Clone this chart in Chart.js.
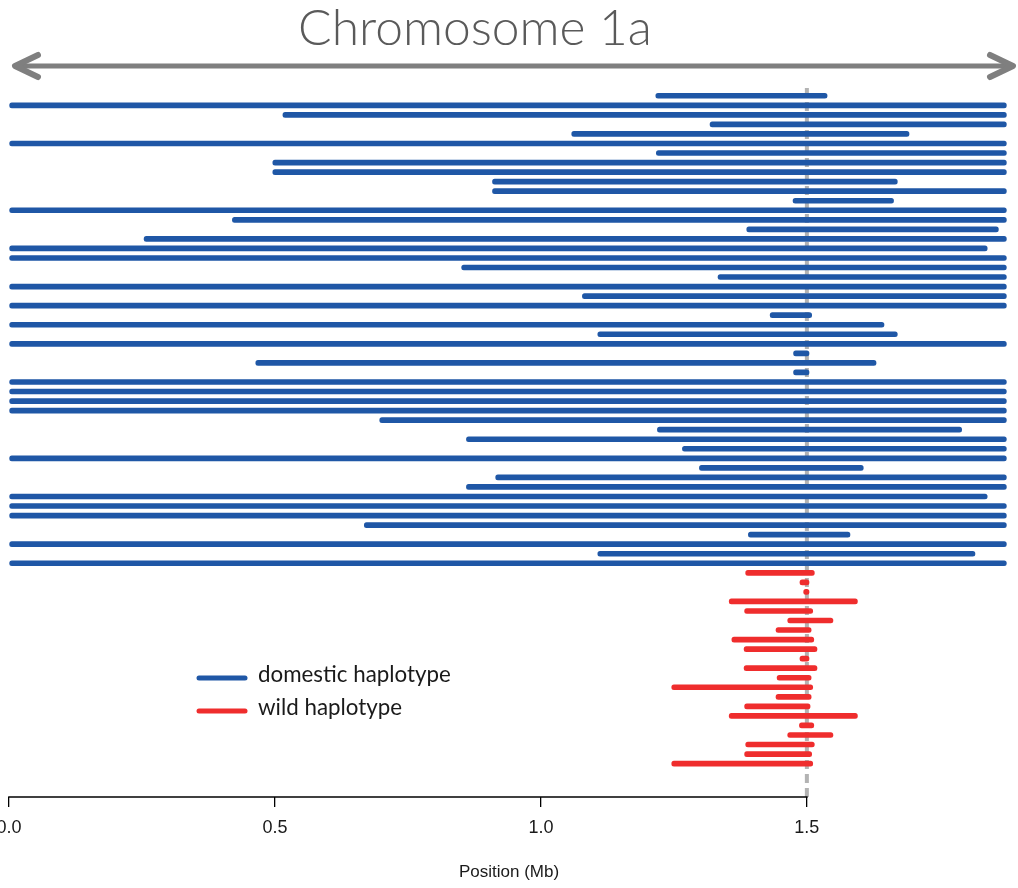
<!DOCTYPE html>
<html>
<head>
<meta charset="utf-8">
<script src="https://cdn.jsdelivr.net/npm/chart.js@4.4.1/dist/chart.umd.min.js"></script>
<style>
  html, body { margin: 0; padding: 0; background: #ffffff; }
  #wrap { width: 1018px; height: 888px; position: relative; }
</style>
</head>
<body>
<div id="wrap"><canvas id="c"></canvas></div>
<script>
// ---- data (Mb) ----
const domesticStart = [1.216,0,0.515,1.318,1.058,0,1.217,0.496,0.496,0.909,0.909,1.474,0,0.42,1.387,0.254,0,0,0.851,1.333,0,1.078,0,1.431,0,1.107,0,1.475,0.464,1.475,0,0,0,0,0.697,1.219,0.860,1.266,0,1.298,0.915,0.860,0,0,0,0.668,1.390,0,1.107,0];
const domesticEnd = [1.538,1.875,1.875,1.875,1.692,1.875,1.875,1.875,1.875,1.670,1.875,1.663,1.875,1.875,1.860,1.875,1.839,1.875,1.875,1.875,1.875,1.875,1.875,1.509,1.645,1.670,1.875,1.504,1.630,1.504,1.875,1.875,1.875,1.875,1.875,1.791,1.875,1.875,1.875,1.606,1.875,1.875,1.839,1.875,1.875,1.875,1.581,1.875,1.816,1.875];
const wildStart = [1.385,1.487,1.494,1.354,1.383,1.464,1.442,1.359,1.382,1.487,1.382,1.444,1.246,1.442,1.383,1.354,1.486,1.464,1.385,1.383,1.246];
const wildEnd = [1.514,1.504,1.504,1.595,1.511,1.549,1.508,1.513,1.519,1.504,1.519,1.508,1.511,1.508,1.506,1.595,1.513,1.549,1.514,1.509,1.511];
const tickValues = [0, 0.5, 1.0, 1.5];
const markerPosition = 1.5;
const spacerRows = 3;
const seriesNames = ['domestic haplotype', 'wild haplotype'];
const chartTitle = 'Chromosome 1a';
const axisTitle = 'Position (Mb)';

const BLUE = '#1f57a6';
const RED = '#ef2d2d';

// ---- build rows ----
const rowLabels = [];
domesticStart.forEach((_, i) => rowLabels.push('D' + (i + 1)));
wildStart.forEach((_, i) => rowLabels.push('W' + (i + 1)));
for (let i = 0; i < spacerRows; i++) rowLabels.push('');

const domesticData = rowLabels.map((_, i) => i < domesticStart.length ? [domesticStart[i], domesticEnd[i]] : null);
const wildData = rowLabels.map((_, i) => {
  const j = i - domesticStart.length;
  return (j >= 0 && j < wildStart.length) ? [wildStart[j], wildEnd[j]] : null;
});

function fitFont(ctx, text, targetWidth, family, weight) {
  ctx.font = weight + ' 100px ' + family;
  const w = ctx.measureText(text).width;
  return 100 * targetWidth / w;
}

const decorPlugin = {
  id: 'decor',
  beforeDatasetsDraw(chart) {
    const {ctx, chartArea, scales} = chart;
    const x = scales.x.getPixelForValue(markerPosition);
    ctx.save();
    ctx.strokeStyle = '#b3b3b3';
    ctx.lineWidth = 4;
    ctx.setLineDash([9, 5]);
    ctx.beginPath();
    ctx.moveTo(x, chartArea.top - 3);
    ctx.lineTo(x, chartArea.bottom);
    ctx.stroke();
    ctx.restore();
  },
  afterDraw(chart) {
    const {ctx, chartArea, scales} = chart;
    ctx.save();
    // axis line from first to last tick
    const x0 = scales.x.getPixelForValue(tickValues[0]);
    const x1 = scales.x.getPixelForValue(tickValues[tickValues.length - 1]);
    ctx.strokeStyle = '#000000';
    ctx.lineWidth = 1.6;
    ctx.beginPath();
    ctx.moveTo(x0 - 0.8, chartArea.bottom);
    ctx.lineTo(x1 + 0.8, chartArea.bottom);
    ctx.stroke();

    // title
    const tfam = 'Lato, "Open Sans", sans-serif';
    const tsize = fitFont(ctx, chartTitle, 354, tfam, '300');
    ctx.font = '300 ' + tsize + 'px ' + tfam;
    ctx.fillStyle = '#5a5a5a';
    ctx.textAlign = 'center';
    ctx.textBaseline = 'alphabetic';
    ctx.fillText(chartTitle, 475, 45);

    // double arrow
    ctx.strokeStyle = '#7f7f7f';
    ctx.lineCap = 'round';
    ctx.lineJoin = 'round';
    ctx.lineWidth = 5;
    ctx.beginPath();
    ctx.moveTo(16, 66);
    ctx.lineTo(1012, 66);
    ctx.stroke();
    ctx.lineWidth = 6;
    ctx.beginPath();
    ctx.moveTo(38, 55); ctx.lineTo(15, 66); ctx.lineTo(38, 77);
    ctx.moveTo(990, 55); ctx.lineTo(1013, 66); ctx.lineTo(990, 77);
    ctx.stroke();

    // legend
    const lfam = 'Lato, "Open Sans", sans-serif';
    const lsize = fitFont(ctx, seriesNames[0], 193, lfam, '400');
    ctx.lineWidth = 5;
    ctx.lineCap = 'round';
    ctx.strokeStyle = BLUE;
    ctx.beginPath(); ctx.moveTo(199, 678); ctx.lineTo(245, 678); ctx.stroke();
    ctx.strokeStyle = RED;
    ctx.beginPath(); ctx.moveTo(199, 711); ctx.lineTo(245, 711); ctx.stroke();
    ctx.font = '400 ' + lsize + 'px ' + lfam;
    ctx.fillStyle = '#1a1a1a';
    ctx.textAlign = 'left';
    ctx.textBaseline = 'middle';
    ctx.fillText(seriesNames[0], 258, 675);
    ctx.fillText(seriesNames[1], 258, 708);
    ctx.restore();
  }
};

new Chart(document.getElementById('c'), {
  type: 'bar',
  data: {
    labels: rowLabels,
    datasets: [
      { label: seriesNames[0], data: domesticData, backgroundColor: BLUE, grouped: false,
        barThickness: 5, borderRadius: 2.5, borderSkipped: false, borderWidth: 0 },
      { label: seriesNames[1], data: wildData, backgroundColor: RED, grouped: false,
        barThickness: 5, borderRadius: 2.5, borderSkipped: false, borderWidth: 0 }
    ]
  },
  options: {
    indexAxis: 'y',
    responsive: true,
    maintainAspectRatio: false,
    animation: false,
    devicePixelRatio: 1,
    layout: { padding: { left: 9, right: 9, top: 91, bottom: 0 } },
    plugins: { legend: { display: false }, tooltip: { enabled: false }, title: { display: false } },
    scales: {
      y: { display: false, offset: true },
      x: {
        type: 'linear',
        min: 0,
        max: 1.88,
        afterBuildTicks(scale) { scale.ticks = tickValues.map(v => ({ value: v })); },
        afterFit(scale) { scale.height = 91; scale.paddingLeft = 0; scale.paddingRight = 0; },
        border: { display: false },
        grid: { display: true, drawOnChartArea: false, drawTicks: true, tickLength: 10,
                color: '#000000', lineWidth: 1.3 },
        ticks: {
          padding: 10,
          color: '#1a1a1a',
          font: { family: '"Liberation Sans", Arial, sans-serif', size: 18 },
          maxRotation: 0,
          autoSkip: false,
          callback: (v) => Number(v).toFixed(1)
        },
        title: {
          display: true,
          text: axisTitle,
          color: '#1a1a1a',
          font: { family: '"Liberation Sans", Arial, sans-serif', size: 17 },
          padding: { top: 0, bottom: 5 }
        }
      }
    }
  },
  plugins: [decorPlugin]
});
</script>
</body>
</html>
